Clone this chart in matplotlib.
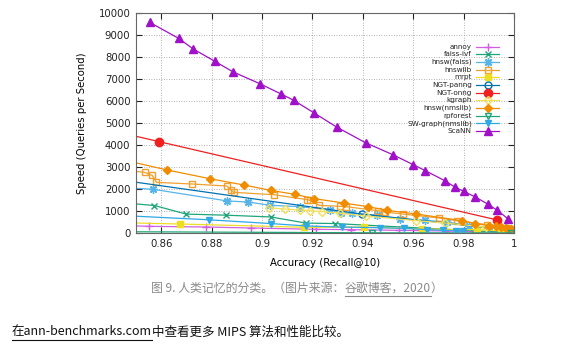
import numpy as np
import matplotlib
matplotlib.use('Agg')
import matplotlib.pyplot as plt
from matplotlib.lines import Line2D

##========================================
# data (recall, queries/s)
##========================================
annoy_x = [0.845, 0.855, 0.8777, 0.8956, 0.9215, 0.9355, 0.9544, 0.9729, 0.9847, 0.9966]
annoy_y = [340, 303, 273, 227, 167, 152, 121, 91, 61, 45]

faiss_ivf_x = [0.84, 0.8573, 0.8699, 0.8856, 0.9034, 0.9175, 0.9288, 0.9987]
faiss_ivf_y = [1420, 1250, 860, 810, 730, 450, 430, 15]

hnsw_faiss_x = [0.84, 0.8566, 0.8863, 0.8945, 0.9032, 0.9151, 0.9271, 0.9315, 0.9357,
                0.9455, 0.9548, 0.9647, 0.9736, 0.982, 0.99, 0.996]
hnsw_faiss_y = [2090, 1990, 1455, 1409, 1258, 1197, 1061, 909, 894,
                818, 640, 576, 500, 330, 260, 190]

hnswlib_x = [0.84, 0.8534, 0.8564, 0.8581, 0.8722, 0.8861, 0.8876, 0.8888, 0.9046, 0.918,
             0.919, 0.9227, 0.9309, 0.9333, 0.9459, 0.9488, 0.9558, 0.9704, 0.9773,
             0.9893, 0.9935, 0.9965, 0.9985]
hnswlib_y = [2920, 2758, 2621, 2303, 2227, 2136, 1955, 1848, 1742, 1515,
             1485, 1258, 1212, 1197, 1015, 955, 864, 682, 560,
             380, 300, 230, 160]

mrpt_x = [0.84, 0.8673, 0.9165, 0.9405, 0.9635, 0.9855, 0.995]
mrpt_y = [480, 409, 260, 270, 182, 152, 100]

ngt_panng_x = [0.84, 0.9395, 0.999]
ngt_panng_y = [2470, 860, 130]

ngt_onng_x = [0.83, 0.8592, 0.9934]
ngt_onng_y = [4930, 4152, 590]

kgraph_x = [0.9027, 0.909, 0.9152, 0.919, 0.9238, 0.931, 0.9413, 0.9612, 0.9725, 0.9887, 0.996]
kgraph_y = [1150, 1090, 1045, 1015, 970, 900, 770, 561, 455, 270, 170]

hnsw_nmslib_x = [0.84, 0.8624, 0.8792, 0.8928, 0.9034, 0.913, 0.9207, 0.9324, 0.942,
                 0.9495, 0.9612, 0.9794, 0.9847, 0.99, 0.993, 0.995, 0.997, 0.998, 0.999]
hnsw_nmslib_y = [3450, 2864, 2470, 2182, 1939, 1758, 1561, 1364, 1197,
                 1030, 864, 561, 424, 340, 300, 260, 220, 190, 160]

rpforest_x = [0.84, 0.9436, 0.999]
rpforest_y = [60, 10, 5]

sw_graph_x = [0.84, 0.879, 0.9034, 0.9175, 0.9317, 0.9467, 0.9564, 0.9655, 0.9717, 0.9768, 0.9797]
sw_graph_y = [820, 600, 430, 320, 270, 240, 212, 152, 121, 106, 76]

scann_x = [0.8554, 0.8669, 0.8727, 0.8813, 0.8886, 0.8994, 0.9076, 0.9126, 0.9207, 0.9298,
           0.9413, 0.9519, 0.96, 0.9648, 0.9725, 0.9765, 0.98, 0.9847, 0.9895, 0.9934, 0.9977]
scann_y = [9576, 8848, 8364, 7803, 7318, 6773, 6318, 6030, 5455, 4803,
           4091, 3561, 3106, 2833, 2379, 2091, 1894, 1636, 1318, 1030, 636]

labels = ['annoy', 'faiss-ivf', 'hnsw(faiss)', 'hnswlib', 'mrpt', 'NGT-panng', 'NGT-onng',
          'kgraph', 'hnsw(nmslib)', 'rpforest', 'SW-graph(nmslib)', 'ScaNN']

xticks = [0.86, 0.88, 0.9, 0.92, 0.94, 0.96, 0.98, 1]
xticklabels = ['0.86', '0.88', '0.9', '0.92', '0.94', '0.96', '0.98', '1']
yticks = list(range(0, 10001, 1000))

##========================================
# styles: (color, marker, filled, markersize)
##========================================
styles = [
    ('#d060e0', '+', True, 6),
    ('#1fa57a', 'x', True, 5),
    ('#56b4e9', (8, 2, 0), True, 6),
    ('#f0a030', 's', False, 5),
    ('#eedd22', 's', True, 5),
    ('#0072b2', 'o', False, 5),
    ('#f02020', 'o', True, 6),
    ('#f2e05a', 'D', False, 4),
    ('#f08c00', 'D', True, 4.5),
    ('#1fa57a', 'v', False, 5),
    ('#2fa8e6', 'v', True, 5),
    ('#a010c8', '^', True, 5.5),
]
series = [(annoy_x, annoy_y), (faiss_ivf_x, faiss_ivf_y), (hnsw_faiss_x, hnsw_faiss_y),
          (hnswlib_x, hnswlib_y), (mrpt_x, mrpt_y), (ngt_panng_x, ngt_panng_y),
          (ngt_onng_x, ngt_onng_y), (kgraph_x, kgraph_y), (hnsw_nmslib_x, hnsw_nmslib_y),
          (rpforest_x, rpforest_y), (sw_graph_x, sw_graph_y), (scann_x, scann_y)]

W, H = 588, 346
fig = plt.figure(figsize=(W / 100, H / 100), dpi=100)
ax = fig.add_axes([136 / W, 1 - 233 / H, (514 - 136) / W, (233 - 13) / H])

def style_kw(c, m, filled, ms):
    kw = dict(color=c, marker=m, markersize=ms, lw=0.9, markeredgewidth=1.0)
    if not filled:
        kw['markerfacecolor'] = 'none'
    kw['markeredgecolor'] = c
    return kw

for (xs, ys), st in zip(series, styles):
    ax.plot(xs, ys, **style_kw(*st))

ax.set_xlim(0.85, 1.0)
ax.set_ylim(0, 10000)
ax.set_xticks(xticks)
ax.set_xticklabels(xticklabels)
ax.set_yticks(yticks)
ax.tick_params(direction='in', top=True, right=True, length=4, width=0.8,
               labelsize=7.3, pad=4, colors='#222222')
ax.grid(True, color='#999999', ls=(0, (1, 2)), lw=0.6)
for s in ax.spines.values():
    s.set_color('#666666')
    s.set_linewidth(0.8)

ax.set_xlabel('Accuracy (Recall@10)', fontsize=7.3, labelpad=7)
ax.set_ylabel('Speed (Queries per Second)', fontsize=7.3, labelpad=8)

# gnuplot style key: right aligned labels, sample line on the right
y0 = 46.7
dy = 7.67
for i, (lab, st) in enumerate(zip(labels, styles)):
    yy = 1 - (y0 + i * dy) / H
    fig.text(472 / W, yy, lab, ha='right', va='center', fontsize=5.2, color='#222222')
    c, m, filled, ms = st
    fig.add_artist(Line2D([476 / W, 499 / W], [yy, yy], color=c, lw=0.9))
    kw = style_kw(c, m, filled, ms)
    kw.pop('lw')
    fig.add_artist(Line2D([487.5 / W], [yy], **kw))

##========================================
# caption and body text (CJK)
##========================================
cjk = ['Noto Sans CJK SC', 'DejaVu Sans']
renderer = fig.canvas.get_renderer()

def place_run(pieces, x_start, y, size, color):
    x = x_start
    for txt, underline in pieces:
        t = fig.text(x / W, 1 - y / H, txt, ha='left', va='center', fontsize=size,
                     color=color, family=cjk)
        bb = t.get_window_extent(renderer)
        if underline:
            uy = 1 - (y + 7.5) / H
            fig.add_artist(Line2D([x / W, (x + bb.width) / W], [uy, uy], color=color, lw=0.8))
        x += bb.width
    return x

def run_width(pieces, size):
    tot = 0
    for txt, _ in pieces:
        t = fig.text(0, 0, txt, fontsize=size, family=cjk)
        tot += t.get_window_extent(renderer).width
        t.remove()
    return tot

caption = [('图 9. 人类记忆的分类。（图片来源：', False), ('谷歌博客，2020', True), ('）', False)]
cw = run_width(caption, 8.6)
place_run(caption, 297 - cw / 2, 288, 8.6, '#8a8a8a')

body = [('在ann-benchmarks.com', True), ('中查看更多 MIPS 算法和性能比较。', False)]
place_run(body, 12, 332, 9.0, '#111111')

plt.savefig('out.png', dpi=100)
